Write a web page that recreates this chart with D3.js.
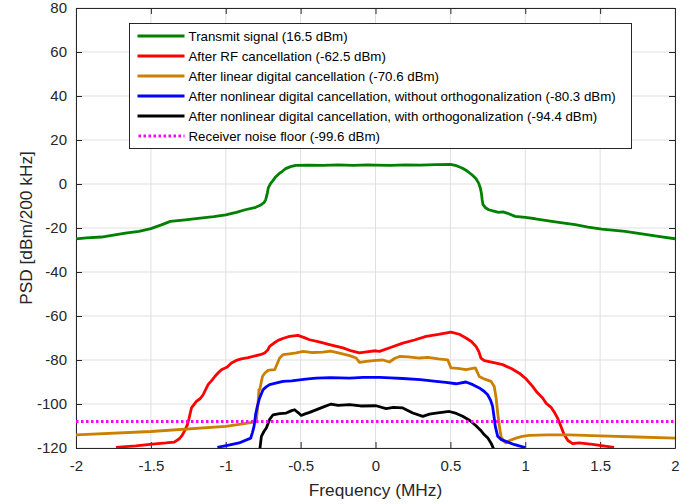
<!DOCTYPE html>
<html>
<head>
<meta charset="utf-8">
<script src="https://cdn.jsdelivr.net/npm/d3@7"></script>
<style>
  body { margin: 0; background: #fff; }
  svg { display: block; font-family: "Liberation Sans", Arial, sans-serif; }
</style>
</head>
<body>
<div class="svg-container"></div>
<script>
'use strict';

// PSD curves, [frequency MHz, dBm/200 kHz]
var transmit = [[-2,-24.9],[-1.93,-24.5],[-1.83,-24.1],[-1.75,-23.2],[-1.67,-22.3],[-1.58,-21.5],[-1.5,-20.3],[-1.43,-18.6],[-1.37,-17.0],[-1.27,-16.3],[-1.17,-15.5],[-1.08,-14.8],[-1.0,-14.0],[-0.93,-12.9],[-0.87,-11.7],[-0.8,-10.6],[-0.77,-9.7],[-0.745,-8.5],[-0.733,-7.1],[-0.722,-4.0],[-0.716,-1.8],[-0.7,0.3],[-0.689,1.2],[-0.667,3.2],[-0.644,4.7],[-0.62,5.9],[-0.6,7.0],[-0.567,7.9],[-0.533,8.5],[-0.45,8.6],[-0.35,8.5],[-0.25,8.7],[-0.15,8.5],[-0.05,8.7],[0,8.6],[0.1,8.5],[0.2,8.7],[0.3,8.6],[0.4,8.8],[0.5,8.9],[0.54,8.3],[0.578,7.3],[0.61,6.0],[0.644,4.2],[0.67,2.5],[0.689,0.4],[0.7,-1.8],[0.707,-4.1],[0.712,-7.0],[0.718,-9.4],[0.735,-10.8],[0.756,-11.7],[0.79,-12.3],[0.822,-12.9],[0.85,-12.7],[0.889,-13.5],[0.933,-14.7],[1.0,-15.2],[1.067,-15.8],[1.2,-17.2],[1.333,-18.5],[1.42,-19.6],[1.511,-20.5],[1.667,-21.5],[1.8,-22.9],[1.9,-23.9],[2,-24.9]];

var afterRf = [[-1.733,-119.7],[-1.6,-119.0],[-1.489,-118.2],[-1.4,-117.7],[-1.344,-117.3],[-1.31,-115.8],[-1.289,-114],[-1.27,-111.5],[-1.256,-109.4],[-1.245,-106.5],[-1.229,-101.8],[-1.196,-98.8],[-1.17,-97.5],[-1.151,-95.8],[-1.118,-91.2],[-1.09,-89.0],[-1.073,-87.5],[-1.05,-85.8],[-1.029,-84.4],[-0.99,-83.2],[-0.962,-81.4],[-0.93,-80.2],[-0.896,-79.5],[-0.85,-78.9],[-0.796,-78.0],[-0.77,-77.6],[-0.74,-76.8],[-0.72,-75.5],[-0.707,-73.8],[-0.68,-72.4],[-0.651,-71.1],[-0.61,-70.0],[-0.573,-69.3],[-0.518,-68.8],[-0.48,-69.7],[-0.44,-70.8],[-0.37,-71.9],[-0.307,-73],[-0.218,-74.5],[-0.16,-75.9],[-0.107,-76.8],[-0.06,-76.3],[0,-75.8],[0.027,-76.1],[0.1,-74.3],[0.182,-72.3],[0.26,-70.9],[0.338,-69.3],[0.42,-68.4],[0.504,-67.3],[0.56,-68.3],[0.604,-70],[0.64,-71.6],[0.671,-73.8],[0.69,-76.2],[0.704,-79.1],[0.727,-80.3],[0.79,-81.2],[0.849,-82.1],[0.91,-84.0],[0.96,-86],[1.0,-88.2],[1.049,-92],[1.08,-94.8],[1.116,-97.3],[1.14,-99.7],[1.171,-101.4],[1.195,-103.8],[1.216,-106.4],[1.24,-110.5],[1.26,-114],[1.285,-116.6],[1.316,-118],[1.36,-117.7],[1.45,-118.4],[1.52,-119.0],[1.593,-119.7]];

var afterLinear = [[-2,-114],[-1.5,-112.5],[-1.0,-110.2],[-0.822,-108.4],[-0.796,-107.9],[-0.785,-100],[-0.778,-93.5],[-0.773,-93.5],[-0.755,-87.5],[-0.74,-86],[-0.718,-84.7],[-0.695,-84.5],[-0.673,-84.4],[-0.655,-81.5],[-0.64,-79.1],[-0.618,-77.6],[-0.575,-77.2],[-0.529,-76.8],[-0.484,-76.1],[-0.42,-76.6],[-0.351,-76.4],[-0.3,-76.0],[-0.262,-76.5],[-0.173,-78],[-0.129,-79.1],[-0.107,-81.1],[-0.062,-80.6],[0.004,-80.2],[0.05,-80.0],[0.093,-80.9],[0.13,-79.2],[0.16,-78.4],[0.22,-78.6],[0.293,-79.1],[0.35,-78.8],[0.42,-79.5],[0.482,-79.9],[0.504,-83.6],[0.55,-83.8],[0.604,-84.4],[0.667,-83.6],[0.693,-87.5],[0.73,-88.7],[0.771,-89.7],[0.793,-92],[0.805,-97],[0.816,-104.1],[0.827,-110],[0.838,-114.7],[0.855,-116.8],[0.871,-117.7],[0.9,-116.5],[0.938,-115.5],[0.98,-114.7],[1.027,-114.3],[1.15,-114],[1.293,-114],[1.5,-114.5],[1.75,-115],[2,-115.5]];

var nonlinNoOrth = [[-1.056,-119.7],[-0.98,-118.7],[-0.911,-117.7],[-0.833,-115.5],[-0.822,-113],[-0.811,-110.2],[-0.8,-104.5],[-0.789,-101.1],[-0.775,-97.5],[-0.751,-93.5],[-0.73,-92.2],[-0.707,-91.2],[-0.66,-90.4],[-0.618,-89.7],[-0.56,-89.5],[-0.507,-89],[-0.45,-88.6],[-0.396,-88.2],[-0.3,-88.0],[-0.173,-88.2],[-0.08,-87.9],[0.027,-87.9],[0.1,-88.1],[0.182,-88.4],[0.3,-88.9],[0.404,-89.7],[0.47,-90.2],[0.538,-90.8],[0.604,-90],[0.65,-91.2],[0.693,-92.7],[0.725,-94.2],[0.749,-95.8],[0.768,-98.2],[0.782,-101.1],[0.792,-106],[0.8,-110.2],[0.816,-114.7],[0.84,-116.2],[0.871,-117],[0.93,-118.5],[1.0,-119.8]];

var nonlinOrth = [[-0.773,-121],[-0.762,-114.7],[-0.745,-112.5],[-0.729,-110.9],[-0.707,-107],[-0.684,-104.9],[-0.64,-104.4],[-0.596,-104.1],[-0.56,-103.0],[-0.54,-102.6],[-0.515,-104.0],[-0.496,-105.2],[-0.47,-104.5],[-0.44,-103.8],[-0.351,-101.4],[-0.296,-100],[-0.25,-100.6],[-0.173,-100.3],[-0.1,-100.9],[0.004,-100.8],[0.071,-102.1],[0.12,-101.5],[0.182,-101.8],[0.249,-104.1],[0.316,-105.6],[0.36,-104.6],[0.404,-104.1],[0.493,-103.4],[0.54,-104.3],[0.582,-105.6],[0.63,-107.5],[0.671,-109.9],[0.7,-111.8],[0.727,-114],[0.75,-115.5],[0.771,-117.7],[0.793,-121]];

var noiseFloor = [[-2,-108],[2,-108]];

var seriesNames = [
  'Transmit signal (16.5 dBm)',
  'After RF cancellation (-62.5 dBm)',
  'After linear digital cancellation (-70.6 dBm)',
  'After nonlinear digital cancellation, without orthogonalization (-80.3 dBm)',
  'After nonlinear digital cancellation, with orthogonalization (-94.4 dBm)',
  'Receiver noise floor (-99.6 dBm)'
];
var seriesData = [transmit, afterRf, afterLinear, nonlinNoOrth, nonlinOrth, noiseFloor];
var seriesColors = ['#008000', '#ff0000', '#cc8000', '#0000ff', '#000000', '#ff00ff'];

var xTicks = [-2, -1.5, -1, -0.5, 0, 0.5, 1, 1.5, 2];
var yTicks = [-120, -100, -80, -60, -40, -20, 0, 20, 40, 60, 80];

(function () {

  var W = 694, H = 504;
  var margin = {top: 8, right: 19, bottom: 56, left: 76};
  var width = W - margin.left - margin.right,
      height = H - margin.top - margin.bottom;

  var x = d3.scaleLinear().domain([-2, 2]).range([0, width]);
  var y = d3.scaleLinear().domain([-120, 80]).range([height, 0]);

  var svg = d3.select('.svg-container')
    .append('svg')
      .attr('width', W)
      .attr('height', H)
    .append('g')
      .attr('transform', 'translate(' + margin.left + ',' + margin.top + ')');

  svg.append('defs').append('clipPath')
      .attr('id', 'clip')
    .append('rect')
      .attr('width', width)
      .attr('height', height);

  // grid
  svg.append('g')
      .selectAll('line')
      .data(xTicks)
    .enter().append('line')
      .attr('x1', function(d) { return x(d); })
      .attr('x2', function(d) { return x(d); })
      .attr('y1', 0)
      .attr('y2', height)
      .style('stroke', '#dfdfdf');
  svg.append('g')
      .selectAll('line')
      .data(yTicks)
    .enter().append('line')
      .attr('x1', 0)
      .attr('x2', width)
      .attr('y1', function(d) { return y(d); })
      .attr('y2', function(d) { return y(d); })
      .style('stroke', '#dfdfdf');

  // axes (box with inward ticks)
  var fmt = function(d) { return String(d); };
  var gx = svg.append('g')
      .attr('transform', 'translate(0,' + height + ')')
      .call(d3.axisBottom(x).tickValues(xTicks).tickFormat(fmt).tickSizeInner(-6).tickSizeOuter(0).tickPadding(12));
  var gy = svg.append('g')
      .call(d3.axisLeft(y).tickValues(yTicks).tickFormat(fmt).tickSizeInner(-6).tickSizeOuter(0).tickPadding(9));
  var gt = svg.append('g')
      .call(d3.axisTop(x).tickValues(xTicks).tickFormat('').tickSizeInner(-6).tickSizeOuter(0));
  var gr = svg.append('g')
      .attr('transform', 'translate(' + width + ',0)')
      .call(d3.axisRight(y).tickValues(yTicks).tickFormat('').tickSizeInner(-6).tickSizeOuter(0));

  [gx, gy, gt, gr].forEach(function(g) {
    g.selectAll('path').style('stroke', '#262626');
    g.selectAll('line').style('stroke', '#262626');
    g.selectAll('text')
      .style('font-family', '"Liberation Sans", Arial, sans-serif')
      .style('font-size', '15px')
      .style('fill', '#262626');
  });

  // curves
  var line = d3.line()
      .x(function(d) { return x(d[0]); })
      .y(function(d) { return y(d[1]); });

  svg.append('g')
      .attr('clip-path', 'url(#clip)')
      .selectAll('path')
      .data(seriesData)
    .enter().append('path')
      .attr('d', line)
      .style('fill', 'none')
      .style('stroke', function(d, i) { return seriesColors[i]; })
      .style('stroke-width', function(d, i) { return i === 5 ? 3 : 2.8; })
      .style('stroke-dasharray', function(d, i) { return i === 5 ? '2.5,2.5' : null; })
      .style('stroke-linejoin', 'round');

  // axis labels
  svg.append('text')
      .attr('x', width / 2)
      .attr('y', height + 48)
      .attr('text-anchor', 'middle')
      .style('font-size', '17.3px')
      .style('fill', '#262626')
      .text('Frequency (MHz)');
  svg.append('text')
      .attr('transform', 'translate(' + (-44) + ',' + (height / 2) + ') rotate(-90)')
      .attr('text-anchor', 'middle')
      .style('font-size', '17.3px')
      .style('fill', '#262626')
      .text('PSD [dBm/200 kHz]');

  // legend
  var lg = svg.append('g')
      .attr('transform', 'translate(' + (129.5 - margin.left) + ',' + (23.5 - margin.top) + ')');
  lg.append('rect')
      .attr('width', 502)
      .attr('height', 125)
      .style('fill', '#fff')
      .style('stroke', '#262626');
  var item = lg.selectAll('.item')
      .data(seriesNames)
    .enter().append('g')
      .attr('class', 'item')
      .attr('transform', function(d, i) { return 'translate(0,' + (12.5 + i * 20) + ')'; });
  item.append('line')
      .attr('x1', function(d, i) { return i === 5 ? 9 : 8; })
      .attr('x2', 55)
      .style('stroke', function(d, i) { return seriesColors[i]; })
      .style('stroke-width', function(d, i) { return i === 5 ? 3 : 2.8; })
      .style('stroke-dasharray', function(d, i) { return i === 5 ? '2.5,2.5' : null; });
  item.append('text')
      .attr('x', 59)
      .attr('dy', '0.35em')
      .style('font-size', '13.3px')
      .style('fill', '#000')
      .text(function(d) { return d; });

})();
</script>
</body>
</html>
